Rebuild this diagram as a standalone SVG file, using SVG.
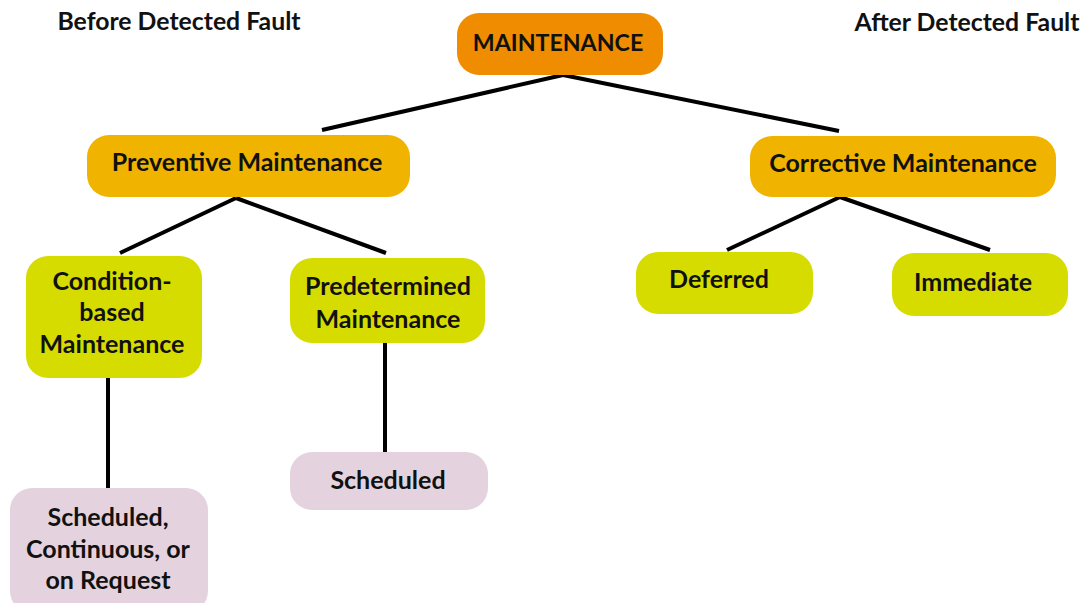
<svg xmlns="http://www.w3.org/2000/svg" width="1085" height="603" viewBox="0 0 1085 603">
<style>
text{font-family:Lato,"Liberation Sans",sans-serif;font-weight:bold;fill:#111;text-anchor:middle;dominant-baseline:central}
.t{font-size:25px}
.h{font-size:24.8px}
.m{font-size:23.2px}
.lvl0{fill:#EF8C00}
.lvl1{fill:#F0B400}
.lvl2{fill:#D7DC00}
.lvl3{fill:#E4D3DE}
.edge{stroke:#000;stroke-width:4;fill:none}
</style>
<rect width="1085" height="603" fill="#fff"/>
<g id="connectors">
<line class="edge" x1="563" y1="75" x2="322" y2="130"/>
<line class="edge" x1="563" y1="75" x2="839" y2="131"/>
<line class="edge" x1="236" y1="198" x2="120" y2="253"/>
<line class="edge" x1="236" y1="198" x2="386" y2="253"/>
<line class="edge" x1="840" y1="197" x2="727" y2="250"/>
<line class="edge" x1="840" y1="197" x2="990" y2="250"/>
<line class="edge" x1="108" y1="378" x2="108" y2="488"/>
<line class="edge" x1="385" y1="343" x2="385" y2="452"/>
</g>
<g id="hdr-before"><text class="h" x="179" y="20">Before Detected Fault</text></g>
<g id="hdr-after"><text class="h" x="967" y="21">After Detected Fault</text></g>
<g id="maintenance"><rect class="lvl0" x="457" y="13" width="206" height="62" rx="22"/><text class="m" x="558" y="42">MAINTENANCE</text></g>
<g id="preventive"><rect class="lvl1" x="87" y="135" width="323" height="62" rx="22"/><text class="t" x="247" y="161">Preventive Maintenance</text></g>
<g id="corrective"><rect class="lvl1" x="750" y="136" width="306" height="61" rx="22"/><text class="t" x="903" y="162">Corrective Maintenance</text></g>
<g id="condition"><rect class="lvl2" x="26" y="256" width="176" height="122" rx="22"/>
<text class="t" x="112" y="280">Condition-</text><text class="t" x="112" y="311">based</text><text class="t" x="112" y="343">Maintenance</text></g>
<g id="predetermined"><rect class="lvl2" x="290" y="258" width="195" height="85" rx="22"/>
<text class="t" x="388" y="285">Predetermined</text><text class="t" x="388" y="318">Maintenance</text></g>
<g id="deferred"><rect class="lvl2" x="636" y="252" width="177" height="62" rx="22"/><text class="t" x="719" y="278">Deferred</text></g>
<g id="immediate"><rect class="lvl2" x="892" y="253" width="176" height="63" rx="22"/><text class="t" x="973" y="281">Immediate</text></g>
<g id="scheduled"><rect class="lvl3" x="290" y="452" width="198" height="58" rx="22"/><text class="t" x="388" y="479">Scheduled</text></g>
<g id="scheduled-cont"><rect class="lvl3" x="10" y="488" width="198" height="125" rx="22"/>
<text class="t" x="108" y="516">Scheduled,</text><text class="t" x="108" y="548">Continuous, or</text><text class="t" x="108" y="579">on Request</text></g>
</svg>
